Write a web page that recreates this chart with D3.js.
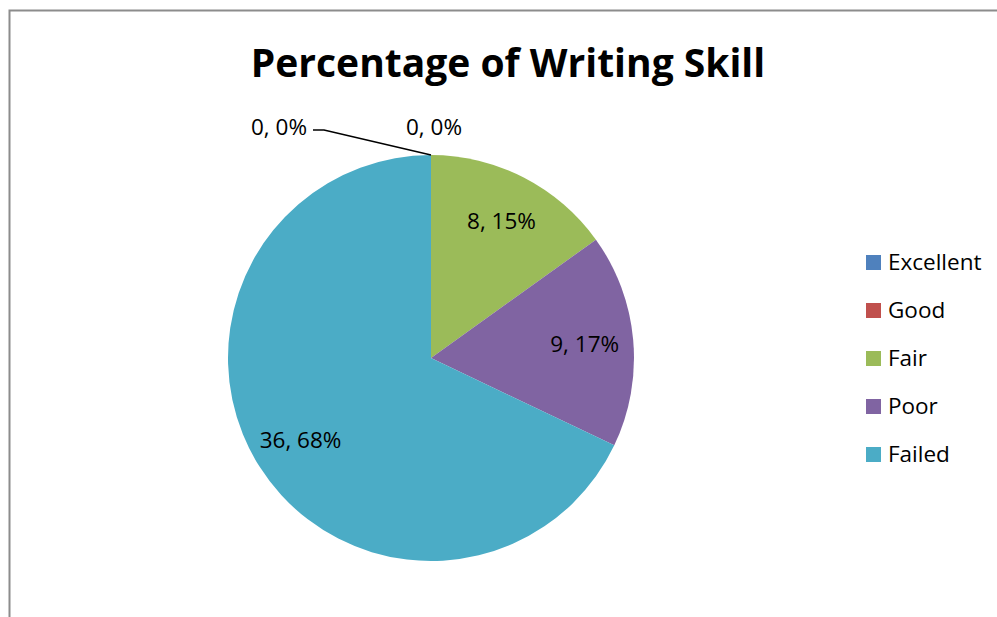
<!DOCTYPE html>
<html>
<head>
<meta charset="utf-8">
<script src="https://cdn.jsdelivr.net/npm/d3@7"></script>
<style>
  body { margin: 0; background: #fff; }
  text { font-family: "Open Sans", "Noto Sans", sans-serif; }
</style>
</head>
<body>
<svg id="chart" width="997" height="617"></svg>
<script>
// data
const categories = ["Excellent", "Good", "Fair", "Poor", "Failed"];
const counts = [0, 0, 8, 9, 36];
const percents = [0, 0, 15, 17, 68];
const colors = ["#4f81bd", "#c0504d", "#9bbb59", "#8064a2", "#4bacc6"];

const svg = d3.select("#chart");

// outer frame (cropped at right and bottom)
svg.append("path")
    .attr("d", "M9.5,617 V10.5 H997")
    .attr("fill", "none")
    .attr("stroke", "#8c8c8c")
    .attr("stroke-width", 2);

svg.append("text")
    .attr("x", 508)
    .attr("y", 77)
    .attr("text-anchor", "middle")
    .attr("font-size", 39)
    .attr("font-weight", "bold")
    .text("Percentage of Writing Skill");

const cx = 431, cy = 358, radius = 203;
const fs = 22.5;

const data = categories.map((c, i) => ({ name: c, count: counts[i], pct: percents[i], color: colors[i] }));

const pie = d3.pie().sort(null).value(d => d.count);
const arcs = pie(data);
const arc = d3.arc().innerRadius(0).outerRadius(radius);
const labelArc = d3.arc().innerRadius(radius * 0.76).outerRadius(radius * 0.76);

const g = svg.append("g").attr("transform", `translate(${cx},${cy})`);

g.selectAll("path.slice")
    .data(arcs.filter(d => d.data.count > 0))
    .join("path")
    .attr("class", "slice")
    .attr("d", arc)
    .attr("fill", d => d.data.color);

// labels inside the slices
g.selectAll("text.lbl")
    .data(arcs.filter(d => d.data.count > 0))
    .join("text")
    .attr("class", "lbl")
    .attr("transform", d => `translate(${labelArc.centroid(d)})`)
    .attr("text-anchor", "middle")
    .attr("dy", "0.35em")
    .attr("font-size", fs)
    .text(d => `${d.data.count}, ${d.data.pct}%`);

// zero slices: labels outside the top of the pie
const zeros = arcs.filter(d => d.data.count === 0);
const topY = -radius - 28;
zeros.forEach((d, i) => {
    const isFirst = i === 0;
    const lx = isFirst ? -124 : 3;
    g.append("text")
        .attr("x", lx)
        .attr("y", topY)
        .attr("text-anchor", isFirst ? "end" : "middle")
        .attr("dy", "0.35em")
        .attr("font-size", fs)
        .text(`${d.data.count}, ${d.data.pct}%`);
    if (isFirst) {
        g.append("polyline")
            .attr("points", `${lx + 6},${topY + 3} ${lx + 17},${topY + 3} ${Math.sin(d.startAngle) * radius},${-Math.cos(d.startAngle) * radius}`)
            .attr("fill", "none")
            .attr("stroke", "#000")
            .attr("stroke-width", 1.6);
    }
});

// legend
const legend = svg.append("g").attr("transform", "translate(866,262)");
const rows = legend.selectAll("g")
    .data(data)
    .join("g")
    .attr("transform", (d, i) => `translate(0,${i * 48})`);
rows.append("rect")
    .attr("x", 0).attr("y", -7)
    .attr("width", 15).attr("height", 15)
    .attr("fill", d => d.color);
rows.append("text")
    .attr("x", 22)
    .attr("dy", "0.35em")
    .attr("font-size", fs)
    .text(d => d.name);
</script>
</body>
</html>
